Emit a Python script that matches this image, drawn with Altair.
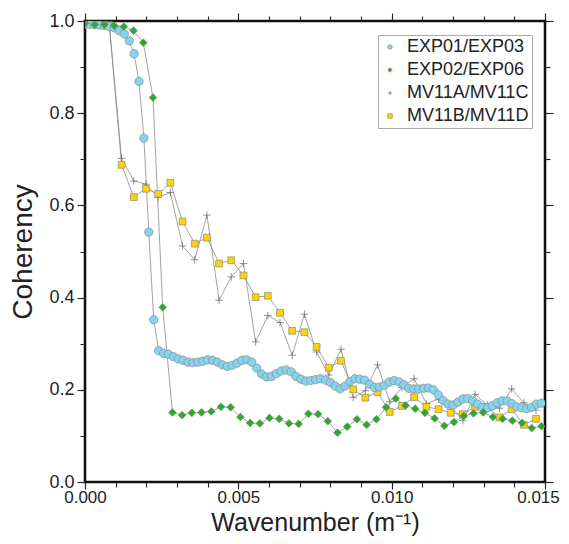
import altair as alt
import pandas as pd

names = ["EXP01/EXP03", "EXP02/EXP06", "MV11A/MV11C", "MV11B/MV11D"]

# wavenumber spacing of each series (m^-1)
blue_step = 0.00016
green_step = 0.0003167
mv_step = 0.0003975

blue_y = [0.993, 0.993, 0.992, 0.991, 0.990, 0.988, 0.985, 0.979, 0.972, 0.957,
          0.929, 0.869, 0.746, 0.542, 0.352, 0.285, 0.279, 0.277, 0.272, 0.267,
          0.264, 0.260, 0.259, 0.260, 0.262, 0.265, 0.264, 0.260, 0.254, 0.251,
          0.253, 0.258, 0.264, 0.265, 0.260, 0.247, 0.234, 0.228, 0.229, 0.235,
          0.241, 0.243, 0.239, 0.229, 0.223, 0.219, 0.220, 0.222, 0.224, 0.221,
          0.216, 0.208, 0.202, 0.208, 0.218, 0.224, 0.223, 0.221, 0.212, 0.205,
          0.206, 0.210, 0.217, 0.220, 0.217, 0.211, 0.203, 0.202, 0.202, 0.203,
          0.204, 0.200, 0.189, 0.177, 0.169, 0.167, 0.173, 0.180, 0.181, 0.176,
          0.169, 0.162, 0.161, 0.165, 0.172, 0.176, 0.176, 0.170, 0.163, 0.161,
          0.159, 0.162, 0.169, 0.171]

green_y = [0.995, 0.992, 0.992, 0.990, 0.988, 0.979, 0.953, 0.834, 0.379, 0.151,
           0.145, 0.150, 0.151, 0.153, 0.163, 0.162, 0.141, 0.128, 0.127, 0.139,
           0.137, 0.127, 0.126, 0.148, 0.147, 0.132, 0.107, 0.120, 0.136, 0.124,
           0.136, 0.162, 0.181, 0.166, 0.159, 0.150, 0.138, 0.122, 0.130, 0.143,
           0.149, 0.151, 0.141, 0.137, 0.133, 0.128, 0.117, 0.121]

mva_y = [0.995, 0.993, 0.990, 0.702, 0.653, 0.646, 0.617, 0.628, 0.512, 0.482,
         0.579, 0.394, 0.445, 0.474, 0.304, 0.361, 0.346, 0.275, 0.364, 0.282,
         0.232, 0.288, 0.183, 0.198, 0.254, 0.174, 0.205, 0.224, 0.170, 0.180,
         0.165, 0.133, 0.190, 0.167, 0.160, 0.202, 0.172, 0.156]

mvb_y = [0.995, 0.993, 0.991, 0.688, 0.618, 0.636, 0.625, 0.649, 0.565, 0.517,
         0.530, 0.474, 0.481, 0.448, 0.401, 0.404, 0.367, 0.328, 0.325, 0.293,
         0.248, 0.263, 0.201, 0.183, 0.195, 0.152, 0.165, 0.184, 0.163, 0.158,
         0.150, 0.147, 0.163, 0.163, 0.140, 0.158, 0.124, 0.137]

x_major = [0.0, 0.005, 0.010, 0.015]
x_minor = [i / 1000 for i in range(16)]
y_major = [0.0, 0.2, 0.4, 0.6, 0.8, 1.0]
y_minor = [i / 10 for i in range(11)]

fills = ["#84D4EE", "#2EAA28", "transparent", "#FFD200"]
strokes = ["#8a8a8a", "#6f8f6f", "#666666", "#8a8a8a"]
shapes = ["circle", "diamond", "M-1,0H1M0,-1V1", "square"]
sizes = {"EXP01/EXP03": 70, "EXP02/EXP06": 60, "MV11A/MV11C": 58, "MV11B/MV11D": 46}

rows = []
for name, step, ys in [(names[2], mv_step, mva_y), (names[3], mv_step, mvb_y),
                       (names[0], blue_step, blue_y), (names[1], green_step, green_y)]:
    for i, v in enumerate(ys):
        rows.append({"series": name, "k": i * step, "coh": v})
df = pd.DataFrame(rows)

FONT = "Liberation Sans"
xs = alt.Scale(domain=[0, 0.015], nice=False)
ys_ = alt.Scale(domain=[0, 1], nice=False)

def ax(orient, values, size, labels=False, title=None, fmt=None, **extra):
    kw = dict(orient=orient, values=values, tickSize=size, labels=labels,
              domain=False, grid=False, tickColor="#222", tickWidth=1.1,
              title=title)
    if labels:
        kw.update(format=fmt, labelFontSize=18, labelFont=FONT, labelColor="#222",
                  labelFlush=False, labelOverlap=False,
                  titleFont=FONT, titleFontWeight="normal",
                  titleColor="#222", titleBaseline="alphabetic")
        kw.update(extra)
    return alt.Axis(**kw)

base = alt.Chart(df)

lines = base.mark_line(color="#8c8c8c", strokeWidth=0.8, clip=True).encode(
    x=alt.X("k:Q", scale=xs,
            axis=ax("bottom", x_major, 7, True, "Wavenumber (m\u207b\u00b9)", ".3f",
                    labelPadding=0, labelFontSize=17, titleFontSize=25, titleY=48,
                    labelOffset={"condition": {"test": "datum.value >= 0.0149", "value": -7},
                                 "value": 0})),
    y=alt.Y("coh:Q", scale=ys_,
            axis=ax("left", y_major, 8, True, "Coherency", ".1f",
                    labelPadding=3, titleFontSize=28, titleX=-54)),
    detail="series:N",
)

def tick_layer(xo, xv, yo, yv, size):
    return base.mark_point(opacity=0).encode(
        x=alt.X("k:Q", scale=xs, axis=ax(xo, xv, size)),
        y=alt.Y("coh:Q", scale=ys_, axis=ax(yo, yv, size)),
    )

leg = alt.Legend(title=None, orient="none", legendX=293, legendY=14)

def point_layer(name):
    return base.transform_filter(alt.datum.series == name).mark_point(
        filled=True, strokeWidth=0.7, size=sizes[name], opacity=1, clip=True
    ).encode(
        x=alt.X("k:Q", scale=xs, axis=None),
        y=alt.Y("coh:Q", scale=ys_, axis=None),
        shape=alt.Shape("series:N", scale=alt.Scale(domain=names, range=shapes), legend=leg),
        fill=alt.Fill("series:N", scale=alt.Scale(domain=names, range=fills), legend=leg),
        stroke=alt.Stroke("series:N", scale=alt.Scale(domain=names, range=strokes), legend=leg),
    )

layers = [lines,
          tick_layer("top", x_major, "right", y_major, 8),
          tick_layer("bottom", x_minor, "left", y_minor, 5),
          tick_layer("top", x_minor, "right", y_minor, 5)]
layers += [point_layer(n) for n in [names[2], names[3], names[0], names[1]]]

chart = alt.layer(*layers).resolve_axis(
    x="independent", y="independent"
).properties(
    width=460, height=461,
    autosize=alt.AutoSizeParams(type="none"),
    padding={"left": 77, "top": 13, "right": 16, "bottom": 54},
).configure_view(
    stroke="#111", strokeWidth=2.6
).configure_legend(
    labelFont=FONT, labelFontSize=18, labelColor="#222",
    strokeColor="#aaaaaa", fillColor="white", padding=3,
    rowPadding=5, symbolSize=20, symbolStrokeWidth=0.7, labelOffset=8,
)

chart.save("out.html", embed_options={"renderer": "svg", "actions": False})
